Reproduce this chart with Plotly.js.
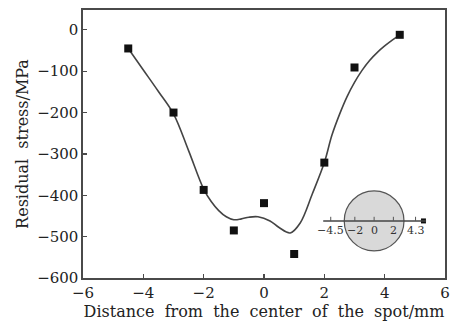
<!DOCTYPE html>
<html>
<head>
<meta charset="utf-8">
<script src="https://cdn.plot.ly/plotly-3.0.1.min.js"></script>
<style>html,body{margin:0;padding:0;background:#fff;}#chart{width:452px;height:322px;}</style>
</head>
<body>
<div id="chart"></div>
<script>
// Measured points
const pointX = [-4.5, -3, -2, -1, 0, 1, 2, 3, 4.5];
const pointY = [-45, -200, -387, -485, -419, -542, -321, -91, -12];

// Fitted curve
const curveX = [-4.5, -4, -3.5, -3, -2.5, -2, -1.75, -1.5, -1.25, -1, -0.75, -0.5, -0.2, 0.2, 0.5, 0.87, 1.2, 1.6, 2, 2.25, 2.5, 2.75, 3, 3.25, 3.5, 3.75, 4, 4.25, 4.5];
const curveY = [-45, -97, -149, -203, -292, -385, -415, -437, -452, -459, -457, -453, -452, -462, -478, -491, -467, -397, -321, -255, -205, -162, -127, -98, -74, -55, -39, -25, -12];

// Inset (spot schematic), in its own units (mm across the spot)
const insetTickVals = [-4.5, -2, 0, 2, 4.3];
const insetTickText = ['\u22124.5', '\u22122', '0', '2', '4.3'];
const insetLineEnds = [-5.28, 5.39];
const insetEndMark = [5.12];
const insetRadius = 3.1;

const xTicks = [-6, -4, -2, 0, 2, 4, 6];
const yTicks = [-600, -500, -400, -300, -200, -100, 0];

// placement of the inset inside the main axes
const insetCx = 3.65, insetScale = 0.3195, insetY = -462, insetRy = 72.5, insetTick = 10;
const ix = u => insetCx + u * insetScale;

const serif = 'DejaVu Serif, Liberation Serif, serif';
const ink = '#222';
const axisCol = '#4a4a4a';

const traces = [
  {x: curveX, y: curveY, mode: 'lines', type: 'scatter',
   line: {color: '#444', width: 1.6, shape: 'spline', smoothing: 1},
   hoverinfo: 'skip', showlegend: false},
  {x: pointX, y: pointY, mode: 'markers', type: 'scatter',
   marker: {symbol: 'square', size: 8, color: '#111'}, showlegend: false},
  {x: insetEndMark.map(ix), y: insetEndMark.map(() => insetY), mode: 'markers', type: 'scatter',
   marker: {symbol: 'square', size: 5, color: '#111'}, showlegend: false}
];

const shapes = [
  {type: 'circle', xref: 'x', yref: 'y', x0: ix(-insetRadius), x1: ix(insetRadius),
   y0: insetY - insetRy, y1: insetY + insetRy,
   fillcolor: '#d9d9d9', line: {color: '#555', width: 1.2}, layer: 'below'},
  {type: 'line', xref: 'x', yref: 'y', x0: ix(insetLineEnds[0]), x1: ix(insetLineEnds[1]),
   y0: insetY, y1: insetY, line: {color: '#444', width: 1.5}}
];
insetTickVals.forEach(v => shapes.push({type: 'line', xref: 'x', yref: 'y', x0: ix(v), x1: ix(v),
  y0: insetY, y1: insetY + insetTick, line: {color: '#555', width: 1}}));

const annotations = insetTickVals.map((v, i) => ({
  x: ix(v), y: insetY, xref: 'x', yref: 'y', text: insetTickText[i], showarrow: false,
  yanchor: 'top', xanchor: 'center', yshift: -1,
  font: {family: serif, size: 11, color: '#333'}
}));

const layout = {
  width: 452, height: 322,
  margin: {l: 83, r: 7, t: 10, b: 44},
  paper_bgcolor: '#fff', plot_bgcolor: '#fff',
  showlegend: false,
  font: {family: serif, color: ink, size: 15},
  xaxis: {
    range: [-6, 6], tickvals: xTicks, ticks: 'inside', ticklen: 4, tickwidth: 1.2, tickcolor: axisCol,
    showline: true, linecolor: axisCol, linewidth: 1.6, mirror: true, showgrid: false, zeroline: false,
    tickfont: {family: serif, size: 15, color: ink},
    title: {text: 'Distance\u00a0 from\u00a0 the\u00a0 center\u00a0 of\u00a0 the\u00a0 spot/mm', font: {family: serif, size: 16, color: ink}, standoff: 2}
  },
  yaxis: {
    range: [-600, 48], tickvals: yTicks, ticks: 'inside', ticklen: 4, tickwidth: 1.2, tickcolor: axisCol,
    showline: true, linecolor: axisCol, linewidth: 1.6, mirror: true, showgrid: false, zeroline: false,
    tickfont: {family: serif, size: 15, color: ink},
    title: {text: 'Residual\u00a0 stress/MPa', font: {family: serif, size: 16, color: ink}, standoff: 4}
  },
  shapes: shapes,
  annotations: annotations
};

Plotly.newPlot('chart', traces, layout, {displayModeBar: false, staticPlot: true});
</script>
</body>
</html>
